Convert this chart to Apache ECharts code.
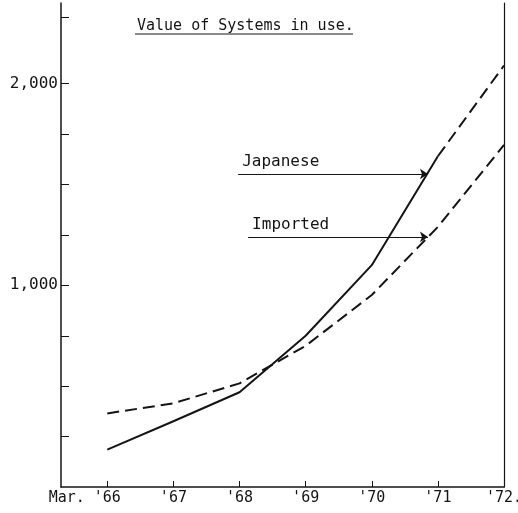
<!DOCTYPE html>
<html>
<head>
<meta charset="utf-8">
<script src="https://cdn.jsdelivr.net/npm/echarts@6/dist/echarts.min.js"></script>
<style>
  html, body { margin: 0; padding: 0; background: #fff; }
  #chart { width: 518px; height: 513px; }
</style>
</head>
<body>
<div id="chart"></div>
<script>
"use strict";
// years on the x axis
var years = [1966, 1967, 1968, 1969, 1970, 1971, 1972];
var yearLabels = ["Mar. '66", "'67", "'68", "'69", "'70", "'71", "'72."];
// value of systems in use
var japanese = [185, 326, 470, 750, 1100, 1640];   // actual, '66 - '71
var japaneseProj = [1640, 2090];                   // projection '71 - '72
var imported = [365, 415, 514, 700, 952, 1290, 1696];
var yTicks = [250, 500, 750, 1000, 1250, 1500, 1750, 2000, 2330];
var yLabels = [1000, 2000];

var ink = "#141414";
var mono = "DejaVu Sans Mono";

function pairs(xs, ys) {
  return ys.map(function (v, i) { return [xs[i], v]; });
}

var myChart = echarts.init(document.getElementById("chart"));
var option = {
  animation: false,
  title: {
    text: "Value of Systems in use.",
    left: 132,
    top: 14,
    textStyle: { fontFamily: mono, fontSize: 15, fontWeight: "normal", color: ink },
  },
  graphic: [
    // underline of the title
    { type: "line", shape: { x1: 135, y1: 34, x2: 353, y2: 34 }, style: { stroke: ink, lineWidth: 1 } },
  ],
  grid: { left: 61, right: 14, top: 3, bottom: 26, outerBoundsMode: "none" },
  xAxis: {
    type: "value",
    min: 1965.3,
    max: 1972,
    axisLine: { show: true, lineStyle: { color: ink, width: 1.5 } },
    axisTick: { show: true, inside: true, length: 6, customValues: years, lineStyle: { color: ink } },
    splitLine: { show: false },
    axisLabel: {
      customValues: years,
      margin: 4,
      fontFamily: mono,
      fontSize: 15,
      color: ink,
      formatter: function (v) {
        var i = years.indexOf(Math.round(v));
        if (i === 0) return "{p|Mar. }'66{q|}";
        return yearLabels[i];
      },
      rich: {
        p: { fontFamily: mono, fontSize: 15, color: ink, width: 45 },
        q: { width: 45 },
      },
    },
  },
  yAxis: [
    {
      type: "value",
      min: 0,
      max: 2400,
      axisLine: { show: true, lineStyle: { color: ink, width: 1.5 } },
      axisTick: { show: true, inside: true, length: 8, customValues: yTicks, lineStyle: { color: ink } },
      splitLine: { show: false },
      axisLabel: {
        customValues: yLabels,
        margin: 3,
        fontFamily: mono,
        fontSize: 16,
        color: ink,
        formatter: function (v) {
          return v.toLocaleString("en-US");
        },
      },
    },
    {
      type: "value",
      position: "right",
      min: 0,
      max: 2400,
      axisLine: { show: true, lineStyle: { color: ink, width: 1.2 } },
      axisTick: { show: false },
      axisLabel: { show: false },
      splitLine: { show: false },
    },
  ],
  series: [
    {
      name: "Japanese",
      type: "line",
      data: pairs(years, japanese),
      showSymbol: false,
      lineStyle: { color: ink, width: 2 },
      markLine: {
        silent: true,
        symbol: ["none", "arrow"],
        symbolSize: 8,
        lineStyle: { type: "solid", color: ink, width: 1.2 },
        label: { position: "insideStartTop", distance: 4, fontFamily: mono, fontSize: 16, color: ink, formatter: "{b}" },
        data: [
          [{ name: "Japanese", coord: [1967.98, 1552] }, { coord: [1970.85, 1552] }],
          [{ name: "Imported", coord: [1968.13, 1240] }, { coord: [1970.85, 1240] }],
        ],
      },
    },
    {
      name: "Japanese (projected)",
      type: "line",
      data: pairs(years.slice(5), japaneseProj),
      showSymbol: false,
      lineStyle: { color: ink, width: 2, type: [12, 6] },
    },
    {
      name: "Imported",
      type: "line",
      data: pairs(years, imported),
      showSymbol: false,
      lineStyle: { color: ink, width: 2, type: [12, 6] },
    },
  ],
};
myChart.setOption(option);
</script>
</body>
</html>
